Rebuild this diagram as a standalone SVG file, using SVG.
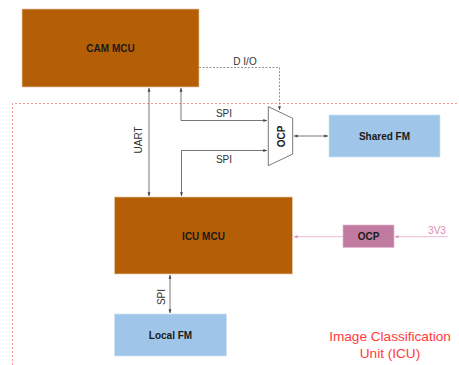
<svg xmlns="http://www.w3.org/2000/svg" width="459" height="365" viewBox="0 0 459 365">
<defs>
<style>
.mcu{fill:#b45f06;stroke:#e8c9a8;stroke-width:0.7}
.fm{fill:#9fc5e8;stroke:#cfe2f3;stroke-width:0.7}
.bt{font-family:"Liberation Sans",Arial,sans-serif;font-weight:bold;font-size:10px;fill:#1a1a1a;text-anchor:middle}
.lt{font-family:"Liberation Sans",Arial,sans-serif;font-size:10px;fill:#333;text-anchor:middle}
.ln{fill:none;stroke:#555;stroke-width:0.8}
</style>
<marker id="a" viewBox="0 0 6 6" refX="5.5" refY="3" markerWidth="5" markerHeight="5" orient="auto-start-reverse"><path d="M0,0.8 L6,3 L0,5.2 Z" fill="#444"/></marker>
<marker id="p" viewBox="0 0 6 6" refX="5.5" refY="3" markerWidth="5" markerHeight="5" orient="auto-start-reverse"><path d="M0,0.8 L6,3 L0,5.2 Z" fill="#d98bb3"/></marker>
</defs>
<rect width="459" height="365" fill="#fff"/>
<g id="region">
<path d="M12.5,365 V103.5 H459" fill="none" stroke="#ff8a8a" stroke-width="0.9" stroke-dasharray="2,2"/>
<text x="390" y="341" font-family="'Liberation Sans',Arial,sans-serif" font-size="13.6" fill="#ff3b3b" text-anchor="middle">Image Classification</text>
<text x="390" y="358" font-family="'Liberation Sans',Arial,sans-serif" font-size="13.6" fill="#ff3b3b" text-anchor="middle">Unit (ICU)</text>
</g>
<g id="connectors">
<line class="ln" x1="149" y1="88" x2="149" y2="196" marker-start="url(#a)" marker-end="url(#a)"/>
<text class="lt" transform="translate(142,140) rotate(-90)">UART</text>
<path class="ln" d="M181,88 V120.5 H267" marker-start="url(#a)" marker-end="url(#a)"/>
<text class="lt" x="224" y="117">SPI</text>
<path class="ln" d="M181.5,196 V150.5 H267" marker-start="url(#a)" marker-end="url(#a)"/>
<text class="lt" x="224" y="163">SPI</text>
<path d="M199,67.5 H279.5 V110" fill="none" stroke="#777" stroke-width="0.8" stroke-dasharray="2,1.5" marker-end="url(#a)"/>
<text class="lt" x="245" y="65">D I/O</text>
<line class="ln" x1="294" y1="136" x2="328" y2="136" marker-start="url(#a)" marker-end="url(#a)"/>
<line class="ln" x1="170" y1="275" x2="170" y2="313" marker-start="url(#a)" marker-end="url(#a)"/>
<text class="lt" transform="translate(165,297) rotate(-90)">SPI</text>
<line x1="343" y1="236.7" x2="294" y2="236.7" stroke="#e7a9c8" stroke-width="0.8" marker-end="url(#p)"/>
<line x1="448" y1="236.7" x2="395" y2="236.7" stroke="#e7a9c8" stroke-width="0.8" marker-end="url(#p)"/>
<text x="437" y="234" font-family="'Liberation Sans',Arial,sans-serif" font-size="10" fill="#d98bb3" text-anchor="middle">3V3</text>
</g>
<g id="cam-mcu">
<rect class="mcu" x="22" y="9" width="177" height="78"/>
<text class="bt" x="110.5" y="51.5">CAM MCU</text>
</g>
<g id="icu-mcu">
<rect class="mcu" x="114.5" y="197" width="178" height="77"/>
<text class="bt" x="203.5" y="240">ICU MCU</text>
</g>
<g id="ocp-mux">
<path d="M268.3,106.7 L292.7,118.3 V154 L268.3,165.7 Z" fill="#fff" stroke="#555" stroke-width="0.8"/>
<text class="bt" transform="translate(284.5,136.5) rotate(-90)">OCP</text>
</g>
<g id="shared-fm">
<rect class="fm" x="329" y="115" width="111" height="42"/>
<text class="bt" x="384.5" y="139.5">Shared FM</text>
</g>
<g id="ocp-power">
<rect x="343" y="225" width="51" height="22.5" fill="#c27ba0" stroke="#e0b8cc" stroke-width="0.7"/>
<text class="bt" x="368.5" y="240">OCP</text>
</g>
<g id="local-fm">
<rect class="fm" x="114.5" y="314" width="112" height="42"/>
<text class="bt" x="170.5" y="338.5">Local FM</text>
</g>
</svg>
